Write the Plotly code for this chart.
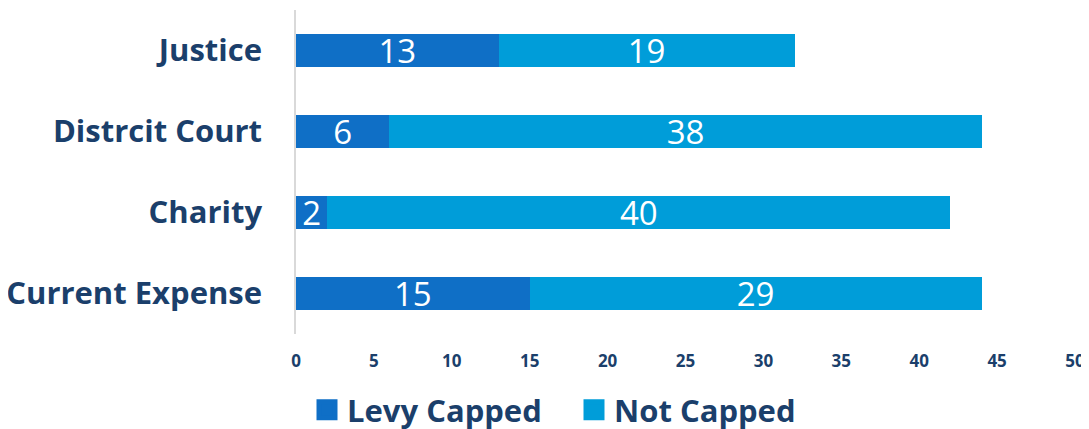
import plotly.graph_objects as go

categories = ["Current Expense", "Charity", "Distrcit Court", "Justice"]
levy_capped = [15, 2, 6, 13]
not_capped = [29, 40, 38, 19]
x_ticks = [0, 5, 10, 15, 20, 25, 30, 35, 40, 45, 50]
series_names = ["Levy Capped", "Not Capped"]
series_colors = ["#0f6fc6", "#009dd9"]

DARK = "#1b3f6b"
FONT = "Open Sans"

fig = go.Figure()
for name, vals, col in zip(series_names, [levy_capped, not_capped], series_colors):
    fig.add_trace(go.Bar(
        y=categories, x=vals, orientation="h", name=name, showlegend=False,
        marker=dict(color=col, line=dict(width=0)),
        text=vals, textposition="inside", insidetextanchor="middle", textangle=0,
        textfont=dict(color="white", size=33, family=FONT), constraintext="none",
    ))
# legend entries with larger square swatches
for name, col in zip(series_names, series_colors):
    fig.add_trace(go.Scatter(
        x=[None], y=[None], mode="markers", name=name,
        marker=dict(symbol="square", size=16, color=col, line=dict(color=col, width=5)),
    ))

W, H = 1081, 421
fig.update_layout(
    barmode="stack", bargap=0.6,
    width=W, height=H,
    margin=dict(l=288, r=14, t=2, b=H - 2 - 324, autoexpand=False),
    plot_bgcolor="white", paper_bgcolor="white",
    font=dict(family=FONT, color=DARK),
    showlegend=True,
    legend=dict(orientation="h", xref="container", x=(307 - 8) / W, xanchor="left",
                yref="paper", y=-0.235, yanchor="middle", entrywidth=222,
                font=dict(size=31, family=FONT, color=DARK, weight="bold"),
                traceorder="normal", itemsizing="trace"),
)
fig.update_xaxes(range=[0, 50], tickvals=x_ticks, showgrid=False, zeroline=False,
                 showline=False, ticks="", ticklabelstandoff=15, automargin=False,
                 tickfont=dict(size=17, family=FONT, color=DARK, weight="bold"))
fig.update_yaxes(showgrid=False, showline=True, linecolor="#d9d9d9", linewidth=1.5,
                 ticks="", ticklabelstandoff=26, automargin=False,
                 tickfont=dict(size=31, family=FONT, color=DARK, weight="bold"))

fig.write_html("out.html")
